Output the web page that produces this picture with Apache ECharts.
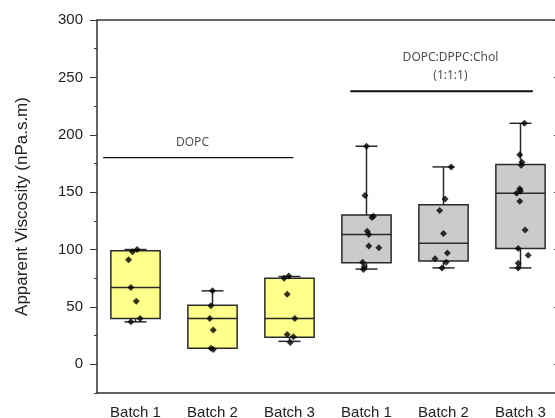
<!DOCTYPE html>
<html>
<head>
<meta charset="utf-8">
<script src="https://cdn.jsdelivr.net/npm/echarts@6/dist/echarts.min.js"></script>
<style>
  html, body { margin: 0; padding: 0; background: #fff; }
  #chart { width: 555px; height: 418px; }
</style>
</head>
<body>
<div id="chart"></div>
<script>
// categories along the x axis
const categories = ['Batch 1', 'Batch 2', 'Batch 3', 'Batch 1', 'Batch 2', 'Batch 3'];

// box stats: [min, Q1, median, Q3, max]
const boxDOPC1 = [37, 40, 67, 99, 100];
const boxDOPC2 = [14, 14, 40, 51.5, 64];
const boxDOPC3 = [20, 23.5, 40, 75, 76.5];
const boxMix1 = [83, 88.5, 113, 130, 190];
const boxMix2 = [84, 90, 105.5, 139, 172];
const boxMix3 = [84, 101, 149, 174, 210];

// individual measurements per batch
const ptsDOPC1 = [98, 100, 91, 67, 55, 40, 37];
const ptsDOPC2 = [64, 51, 40, 30, 13, 14];
const ptsDOPC3 = [77, 75, 61, 40, 26, 24, 19];
const ptsMix1 = [190, 147, 129, 128, 116, 113, 103, 101.5, 89, 85, 82.5];
const ptsMix2 = [172, 144, 134, 114, 97, 92, 89, 84];
const ptsMix3 = [210, 182.5, 176, 173.5, 153, 151, 149, 142, 117, 101, 95, 88, 84];

// horizontal jitter of each point (in category units)
const jitDOPC1 = [-0.04, 0.02, -0.09, -0.06, 0.01, 0.06, -0.06];
const jitDOPC2 = [0, -0.02, -0.035, 0.01, 0.01, -0.02];
const jitDOPC3 = [-0.01, -0.07, -0.03, 0.07, -0.03, 0.05, 0.01];
const jitMix1 = [0, -0.02, 0.09, 0.07, 0.01, 0.03, 0.03, 0.16, -0.05, -0.03, -0.04];
const jitMix2 = [0.1, 0.02, -0.05, 0, 0.05, -0.11, 0.035, -0.02];
const jitMix3 = [0.05, -0.01, 0.02, 0.01, -0.01, 0, -0.05, -0.01, 0.06, -0.03, 0.1, -0.03, -0.03];

// group bars: [from, to] in category units, and the y level
const groupDOPC = { name: 'DOPC', from: -0.42, to: 2.05, y: 180 };
const groupMix = { name: 'DOPC:DPPC:Chol\n(1:1:1)', from: 2.79, to: 5.16, y: 238 };

const yTicks = [0, 50, 100, 150, 200, 250, 300];
const yMinor = [-25, 25, 75, 125, 175, 225, 275];

const boxes = [boxDOPC1, boxDOPC2, boxDOPC3, boxMix1, boxMix2, boxMix3];
const points = [ptsDOPC1, ptsDOPC2, ptsDOPC3, ptsMix1, ptsMix2, ptsMix3];
const jitters = [jitDOPC1, jitDOPC2, jitDOPC3, jitMix1, jitMix2, jitMix3];
const fills = ['#ffff8c', '#ffff8c', '#ffff8c', '#cbcbcb', '#cbcbcb', '#cbcbcb'];

const chart = echarts.init(document.getElementById('chart'));

const boxData = boxes.map((b, i) => [i].concat(b));
const scatterData = [];
points.forEach((arr, i) => {
  arr.forEach((v, j) => scatterData.push([i + jitters[i][j], v]));
});

const lineCol = '#333';
const textCol = '#222';

const option = {
  animation: false,
  grid: { left: 97, right: -4, top: 20, bottom: 25, outerBoundsMode: 'none', containLabel: false },
  xAxis: [
    {
      type: 'category',
      data: categories,
      position: 'bottom',
      axisLine: { onZero: false, lineStyle: { color: lineCol, width: 1.5 } },
      axisTick: { alignWithLabel: true, length: 7, lineStyle: { color: lineCol } },
      axisLabel: { color: textCol, fontSize: 15, fontFamily: 'Liberation Sans', margin: 12 }
    },
    {
      type: 'category',
      data: categories,
      position: 'top',
      axisLine: { onZero: false, lineStyle: { color: lineCol, width: 1.5 } },
      axisTick: { alignWithLabel: true, inside: true, length: 6, lineStyle: { color: lineCol } },
      axisLabel: { show: false }
    },
    { type: 'value', min: -0.5, max: 5.5, show: false, axisLine: { onZero: false } }
  ],
  yAxis: [
    {
      type: 'value',
      min: -25,
      max: 300,
      name: 'Apparent Viscosity (nPa.s.m)',
      nameLocation: 'middle',
      nameGap: 66,
      nameTextStyle: { color: textCol, fontSize: 17, fontFamily: 'Liberation Sans' },
      splitLine: { show: false },
      axisLine: { show: true, onZero: false, lineStyle: { color: lineCol, width: 1.5 } },
      axisTick: { show: true, length: 7, customValues: yTicks, lineStyle: { color: lineCol } },
      axisLabel: { customValues: yTicks, color: textCol, fontSize: 15, fontFamily: 'Liberation Sans', margin: 14 }
    },
    {
      type: 'value',
      min: -25,
      max: 300,
      position: 'right',
      splitLine: { show: false },
      axisLine: { show: true, onZero: false, lineStyle: { color: lineCol, width: 1.5 } },
      axisTick: { show: true, inside: true, length: 5, customValues: yTicks, lineStyle: { color: lineCol } },
      axisLabel: { show: false }
    },
    {
      type: 'value',
      min: -25,
      max: 300,
      position: 'left',
      splitLine: { show: false },
      axisLine: { show: false, onZero: false },
      axisTick: { show: true, length: 3, customValues: yMinor, lineStyle: { color: lineCol } },
      axisLabel: { show: false }
    }
  ],
  series: [
    {
      type: 'custom',
      xAxisIndex: 0,
      yAxisIndex: 0,
      data: boxData,
      encode: { x: 0, y: [1, 2, 3, 4, 5] },
      renderItem: function (params, api) {
        const i = api.value(0);
        const band = api.size([1, 0])[0];
        const half = band * 0.32;
        const cap = 11;
        const pMin = api.coord([i, api.value(1)]);
        const pQ1 = api.coord([i, api.value(2)]);
        const pMed = api.coord([i, api.value(3)]);
        const pQ3 = api.coord([i, api.value(4)]);
        const pMax = api.coord([i, api.value(5)]);
        const x = pMed[0];
        const st = { stroke: '#2a2a2a', lineWidth: 1.5, fill: null };
        return {
          type: 'group',
          children: [
            { type: 'line', shape: { x1: x, y1: pMin[1], x2: x, y2: pQ1[1] }, style: st },
            { type: 'line', shape: { x1: x, y1: pQ3[1], x2: x, y2: pMax[1] }, style: st },
            { type: 'line', shape: { x1: x - cap, y1: pMin[1], x2: x + cap, y2: pMin[1] }, style: st },
            { type: 'line', shape: { x1: x - cap, y1: pMax[1], x2: x + cap, y2: pMax[1] }, style: st },
            {
              type: 'rect',
              shape: { x: x - half, y: pQ3[1], width: half * 2, height: pQ1[1] - pQ3[1] },
              style: { fill: fills[params.dataIndex], stroke: '#2a2a2a', lineWidth: 1.5 }
            },
            { type: 'line', shape: { x1: x - half, y1: pMed[1], x2: x + half, y2: pMed[1] }, style: st }
          ]
        };
      }
    },
    {
      type: 'scatter',
      xAxisIndex: 2,
      yAxisIndex: 0,
      symbol: 'diamond',
      symbolSize: 7,
      itemStyle: { color: '#000' },
      data: scatterData,
      z: 5
    },
    {
      type: 'line',
      xAxisIndex: 2,
      yAxisIndex: 0,
      symbol: 'none',
      lineStyle: { color: '#111', width: 1.3 },
      data: [[groupDOPC.from, groupDOPC.y], [groupDOPC.to, groupDOPC.y]]
    },
    {
      type: 'line',
      xAxisIndex: 2,
      yAxisIndex: 0,
      symbol: 'none',
      lineStyle: { color: '#111', width: 2 },
      data: [[groupMix.from, groupMix.y], [groupMix.to, groupMix.y]]
    },
    {
      type: 'scatter',
      xAxisIndex: 2,
      yAxisIndex: 0,
      symbolSize: 0,
      silent: true,
      label: {
        show: true,
        position: 'inside',
        formatter: p => p.name,
        color: textCol,
        fontSize: 12,
        lineHeight: 18,
        fontFamily: 'Noto Sans',
        align: 'center',
        verticalAlign: 'middle'
      },
      data: [
        { name: groupDOPC.name, value: [0.74, 193] },
        { name: groupMix.name, value: [4.09, 259] }
      ]
    }
  ]
};

chart.setOption(option);
</script>
</body>
</html>
